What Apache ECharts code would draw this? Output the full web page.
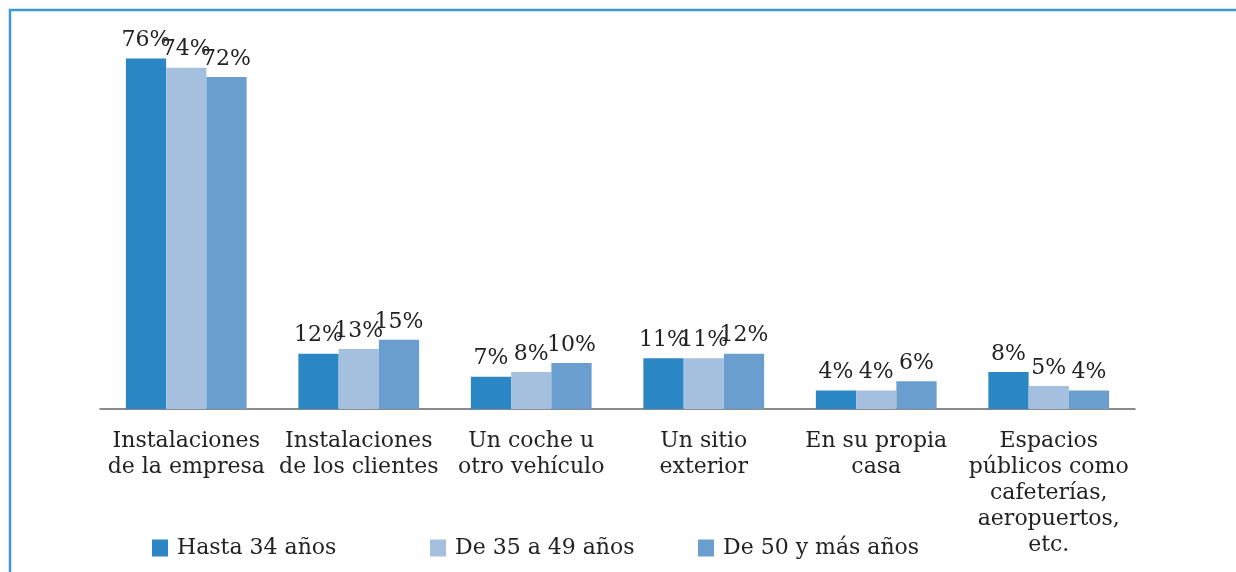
<!DOCTYPE html>
<html>
<head>
<meta charset="utf-8">
<script src="https://cdn.jsdelivr.net/npm/echarts@6/dist/echarts.min.js"></script>
<style>
  html, body { margin: 0; padding: 0; background: #fff; }
  #chart { width: 1236px; height: 572px; }
</style>
</head>
<body>
<div id="chart"></div>
<script>
	// categorías (eje x)
	var categories = [
		'Instalaciones\nde la empresa',
		'Instalaciones\nde los clientes',
		'Un coche u\notro vehículo',
		'Un sitio\nexterior',
		'En su propia\ncasa',
		'Espacios\npúblicos como\ncafeterías,\naeropuertos,\netc.'
	];
	var seriesNames = ['Hasta 34 años', 'De 35 a 49 años', 'De 50 y más años'];
	var hasta34 = [76, 12, 7, 11, 4, 8];
	var de35a49 = [74, 13, 8, 11, 4, 5];
	var de50 = [72, 15, 10, 12, 6, 4];

	var colors = ['#2b87c3', '#a5bfdf', '#6a9ecf'];
	var serif = '"DejaVu Serif", "Liberation Serif", serif';

	function mkSeries(name, data, color) {
		return {
			name: name,
			type: 'bar',
			barGap: 0,
			barCategoryGap: '30%',
			itemStyle: { color: color },
			label: {
				show: true,
				position: 'top',
				distance: 7,
				formatter: '{c}%',
				color: '#222',
				fontFamily: serif,
				fontSize: 22
			},
			data: data
		};
	}

	function mkLegend(name, left) {
		return {
			data: [name],
			left: left,
			top: 532,
			icon: 'rect',
			itemWidth: 16,
			itemHeight: 17,
			itemGap: 0,
			selectedMode: false,
			textStyle: { color: '#222', fontFamily: serif, fontSize: 22, padding: [0, 0, 0, 4] }
		};
	}

	var myChart = echarts.init(document.getElementById('chart'));
	myChart.setOption({
		backgroundColor: '#fff',
		animation: false,
		color: colors,
		grid: { left: 100, right: 101, top: 40, bottom: 163 },
		legend: [
			mkLegend(seriesNames[0], 147),
			mkLegend(seriesNames[1], 425),
			mkLegend(seriesNames[2], 693)
		],
		xAxis: {
			type: 'category',
			data: categories,
			axisLine: { lineStyle: { color: '#666', width: 1.5 } },
			axisTick: { show: false },
			axisLabel: {
				interval: 0,
				margin: 19,
				color: '#222',
				fontFamily: serif,
				fontSize: 22,
				lineHeight: 26
			}
		},
		yAxis: {
			type: 'value',
			min: 0,
			max: 80,
			show: false,
			splitLine: { show: false }
		},
		graphic: [{
			type: 'polyline',
			shape: { points: [[10, 572], [10, 10], [1236, 10]] },
			style: { stroke: '#3d97d3', lineWidth: 2.5, fill: null }
		}],
		series: [
			mkSeries(seriesNames[0], hasta34, colors[0]),
			mkSeries(seriesNames[1], de35a49, colors[1]),
			mkSeries(seriesNames[2], de50, colors[2])
		]
	});
</script>
</body>
</html>
